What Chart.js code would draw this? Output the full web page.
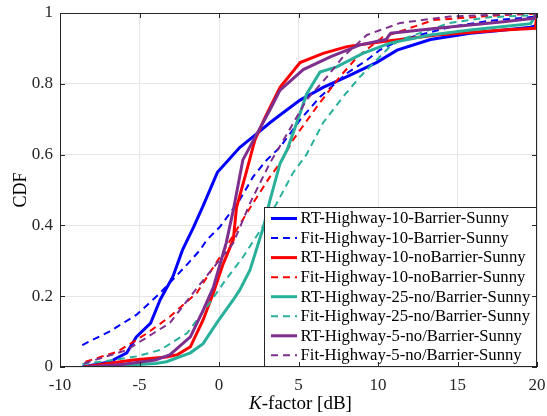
<!DOCTYPE html>
<html>
<head>
<meta charset="utf-8">
<title>K-factor CDF</title>
<script src="https://cdn.jsdelivr.net/npm/chart.js@4.4.1/dist/chart.umd.min.js"></script>
<style>
    body { margin: 0; background: #fff; }
</style>
</head>
<body>
<canvas id="cdfChart" width="547" height="416"></canvas>
<script>
// === K-factor CDF chart ===
// Measured (RT) vs fitted CDFs for the highway scenarios.

// Axis ticks
const xTicks = [-10, -5, 0, 5, 10, 15, 20];
const yTicks = [0, 0.2, 0.4, 0.6, 0.8, 1];

// Legend labels, in drawing order
const seriesLabels = [
    'RT-Highway-10-Barrier-Sunny',
    'Fit-Highway-10-Barrier-Sunny',
    'RT-Highway-10-noBarrier-Sunny',
    'Fit-Highway-10-noBarrier-Sunny',
    'RT-Highway-25-no/Barrier-Sunny',
    'Fit-Highway-25-no/Barrier-Sunny',
    'RT-Highway-5-no/Barrier-Sunny',
    'Fit-Highway-5-no/Barrier-Sunny'
];

// RT-Highway-10-Barrier-Sunny
const rtBarrier10K = [-8.6, -6.9, -5.8, -5.2, -4.3, -3.7, -2.9, -2.3, -1.6, -1.0, -0.1, 1.3, 2.4, 3.2, 3.84, 5.1, 6.55, 8.05, 9.9, 11.2, 13.3, 15.8, 17.5, 19.6, 20, 20];
const rtBarrier10Cdf = [0, 0.014, 0.04, 0.085, 0.124, 0.19, 0.255, 0.33, 0.395, 0.455, 0.55, 0.62, 0.66, 0.69, 0.712, 0.754, 0.79, 0.82, 0.86, 0.895, 0.925, 0.943, 0.95, 0.96, 0.965, 1.0];

// Fit-Highway-10-Barrier-Sunny
const fitBarrier10K = [-8.6, -6.9, -5.2, -3.7, -2.0, -1.2, -0.75, 0.06, 1.3, 2.14, 3.0, 3.84, 5.1, 6.35, 8.05, 9.3, 10.1, 11.4, 14.5, 17, 20];
const fitBarrier10Cdf = [0.062, 0.1, 0.147, 0.209, 0.29, 0.33, 0.36, 0.396, 0.472, 0.537, 0.585, 0.621, 0.698, 0.763, 0.83, 0.867, 0.895, 0.924, 0.96, 0.978, 0.99];

// RT-Highway-10-noBarrier-Sunny
const rtNoBarrier10K = [-8.5, -7, -5.4, -3.3, -2.6, -1.8, -1.0, -0.35, 0.25, 0.9, 1.1, 1.75, 2.25, 2.9, 3.84, 5.1, 6.55, 8.05, 10.1, 13.7, 17.9, 19.9, 20];
const rtNoBarrier10Cdf = [0, 0.01, 0.02, 0.028, 0.035, 0.057, 0.133, 0.21, 0.29, 0.36, 0.45, 0.556, 0.64, 0.705, 0.79, 0.86, 0.886, 0.905, 0.918, 0.938, 0.952, 0.957, 1.0];

// Fit-Highway-10-noBarrier-Sunny
const fitNoBarrier10K = [-8.4, -6.4, -4.5, -3.1, -1.4, 0.05, 1.1, 2.14, 3.2, 3.84, 4.65, 6.15, 7.6, 8.7, 10.3, 13.5, 17.7, 20];
const fitNoBarrier10Cdf = [0.015, 0.043, 0.096, 0.142, 0.209, 0.31, 0.387, 0.463, 0.537, 0.576, 0.641, 0.735, 0.82, 0.876, 0.932, 0.98, 0.994, 0.998];

// RT-Highway-25-no/Barrier-Sunny
const rt25K = [-8.1, -6, -4, -3.3, -1.8, -1.0, -0.15, 0.9, 1.3, 1.95, 2.8, 3.2, 3.84, 4.3, 5.1, 5.5, 5.9, 6.35, 7.4, 9.05, 10.75, 13.3, 15.8, 19.6, 20];
const rt25Cdf = [0, 0.005, 0.01, 0.015, 0.04, 0.066, 0.124, 0.19, 0.217, 0.274, 0.396, 0.47, 0.575, 0.615, 0.717, 0.77, 0.8, 0.833, 0.848, 0.886, 0.915, 0.938, 0.952, 0.97, 1.0];

// Fit-Highway-25-no/Barrier-Sunny
const fit25K = [-8.6, -6.6, -5.2, -3.7, -2.0, -0.6, 0.4, 1.5, 2.8, 3.6, 4.65, 5.5, 6.55, 7.8, 8.87, 9.9, 10.75, 11.4, 14.5, 17, 20];
const fit25Cdf = [0.008, 0.02, 0.03, 0.048, 0.096, 0.18, 0.245, 0.31, 0.4, 0.46, 0.548, 0.6, 0.69, 0.763, 0.82, 0.867, 0.905, 0.924, 0.972, 0.988, 0.994];

// RT-Highway-5-no/Barrier-Sunny
const rt5K = [-8.3, -6, -4, -3.1, -1.8, -1.0, -0.35, 0.45, 0.9, 1.5, 2.4, 3.2, 3.84, 5.3, 7.0, 8.87, 10.5, 10.8, 13.7, 17.9, 19.8, 20];
const rt5Cdf = [0, 0.008, 0.02, 0.034, 0.085, 0.16, 0.226, 0.35, 0.443, 0.585, 0.66, 0.726, 0.782, 0.84, 0.876, 0.91, 0.925, 0.943, 0.957, 0.975, 0.985, 1.0];

// Fit-Highway-5-no/Barrier-Sunny
const fit5K = [-8.5, -5.8, -4.1, -3.1, -1.0, 0.9, 1.95, 3.2, 4.3, 5.5, 6.8, 7.8, 9.3, 11.4, 14.5, 20];
const fit5Cdf = [0.01, 0.048, 0.096, 0.124, 0.245, 0.35, 0.463, 0.576, 0.66, 0.754, 0.82, 0.876, 0.938, 0.972, 0.99, 1.0];

const seriesK = [rtBarrier10K, fitBarrier10K, rtNoBarrier10K, fitNoBarrier10K, rt25K, fit25K, rt5K, fit5K];
const seriesCdf = [rtBarrier10Cdf, fitBarrier10Cdf, rtNoBarrier10Cdf, fitNoBarrier10Cdf, rt25Cdf, fit25Cdf, rt5Cdf, fit5Cdf];

const BLUE = '#0000FF';
const RED = '#FF0000';
const TEAL = '#29B09B';
const PURPLE = '#7E2F8E';
const seriesColors = [BLUE, BLUE, RED, RED, TEAL, TEAL, PURPLE, PURPLE];

const FONT = "'Liberation Serif', 'Times New Roman', serif";
const AXIS_COLOR = '#262626';
const DASH = [7, 5];

const isFit = (i) => i % 2 === 1;

// Build datasets from the arrays above
const datasets = seriesLabels.map((label, i) => ({
    label: label,
    data: seriesK[i].map((k, j) => ({ x: k, y: seriesCdf[i][j] })),
    borderColor: seriesColors[i],
    borderWidth: isFit(i) ? 2 : 3,
    borderDash: isFit(i) ? DASH : [],
    pointRadius: 0,
    tension: 0,
    fill: false,
    order: seriesLabels.length - i // later series drawn on top
}));

// Box, inward ticks, x title and legend (MATLAB look)
const decorPlugin = {
    id: 'decor',
    afterDatasetsDraw(chart) {
        const { ctx, chartArea: a, scales: { x, y } } = chart;
        ctx.save();

        // Legend box
        const lx = 264.5, ly = 207.5, lw = 272, lh = 159;
        ctx.fillStyle = '#fff';
        ctx.fillRect(lx, ly, lw, lh);
        ctx.strokeStyle = AXIS_COLOR;
        ctx.lineWidth = 1;
        ctx.strokeRect(lx, ly, lw, lh);

        ctx.font = '16.7px ' + FONT;
        ctx.textBaseline = 'middle';
        ctx.textAlign = 'left';
        seriesLabels.forEach((label, i) => {
            const cy = 218.5 + i * 19.55;
            ctx.beginPath();
            ctx.strokeStyle = seriesColors[i];
            ctx.lineWidth = isFit(i) ? 2 : 3;
            ctx.setLineDash(isFit(i) ? DASH : []);
            ctx.moveTo(271, cy);
            ctx.lineTo(297, cy);
            ctx.stroke();
            ctx.setLineDash([]);
            ctx.fillStyle = '#000';
            ctx.fillText(label, 300.5, cy + 0.5);
        });

        // Axes box
        ctx.strokeStyle = AXIS_COLOR;
        ctx.lineWidth = 1;
        ctx.strokeRect(a.left + 0.5, a.top + 0.5, a.right - a.left - 1, a.bottom - a.top - 1);

        // Inward ticks
        const tl = 5;
        ctx.beginPath();
        xTicks.forEach(v => {
            const px = Math.round(x.getPixelForValue(v)) + 0.5;
            ctx.moveTo(px, a.bottom);
            ctx.lineTo(px, a.bottom - tl);
            ctx.moveTo(px, a.top);
            ctx.lineTo(px, a.top + tl);
        });
        yTicks.forEach(v => {
            const py = Math.round(y.getPixelForValue(v)) + 0.5;
            ctx.moveTo(a.left, py);
            ctx.lineTo(a.left + tl, py);
            ctx.moveTo(a.right, py);
            ctx.lineTo(a.right - tl, py);
        });
        ctx.stroke();

        // X axis title with italic K
        ctx.fillStyle = '#000';
        ctx.textBaseline = 'alphabetic';
        const italic = 'italic 19px ' + FONT;
        const normal = '19px ' + FONT;
        ctx.font = italic;
        const wK = ctx.measureText('K').width;
        ctx.font = normal;
        const rest = '-factor [dB]';
        const wR = ctx.measureText(rest).width;
        const cx = (a.left + a.right) / 2 + 2;
        const tx = cx - (wK + wR) / 2;
        ctx.font = italic;
        ctx.fillText('K', tx, 409);
        ctx.font = normal;
        ctx.fillText(rest, tx + wK, 409);

        ctx.restore();
    }
};

new Chart(document.getElementById('cdfChart').getContext('2d'), {
    type: 'line',
    data: { datasets: datasets },
    options: {
        responsive: false,
        animation: false,
        events: [],
        layout: { padding: { top: 13, right: 10, left: 0, bottom: 0 } },
        plugins: {
            legend: { display: false },
            tooltip: { enabled: false }
        },
        scales: {
            x: {
                type: 'linear',
                min: -10,
                max: 20,
                afterBuildTicks: (scale) => { scale.ticks = xTicks.map(v => ({ value: v })); },
                afterFit: (scale) => {
                    scale.height = 49;
                    scale.paddingLeft = 0;
                    scale.paddingRight = 0;
                },
                ticks: {
                    color: AXIS_COLOR,
                    font: { family: FONT, size: 17 },
                    padding: 8,
                    maxRotation: 0,
                    callback: (v) => String(v)
                },
                grid: { color: '#E6E6E6', drawTicks: false },
                border: { display: false }
            },
            y: {
                type: 'linear',
                min: 0,
                max: 1,
                afterBuildTicks: (scale) => { scale.ticks = yTicks.map(v => ({ value: v })); },
                afterFit: (scale) => {
                    scale.width = 60;
                    scale.paddingTop = 0;
                    scale.paddingBottom = 0;
                },
                ticks: {
                    color: AXIS_COLOR,
                    font: { family: FONT, size: 17 },
                    padding: 7,
                    callback: (v) => String(Math.round(v * 10) / 10)
                },
                title: {
                    display: true,
                    text: 'CDF',
                    color: '#000',
                    font: { family: FONT, size: 18 },
                    padding: { top: 10, bottom: 0 }
                },
                grid: { color: '#E6E6E6', drawTicks: false },
                border: { display: false }
            }
        }
    },
    plugins: [decorPlugin]
});
</script>
</body>
</html>
